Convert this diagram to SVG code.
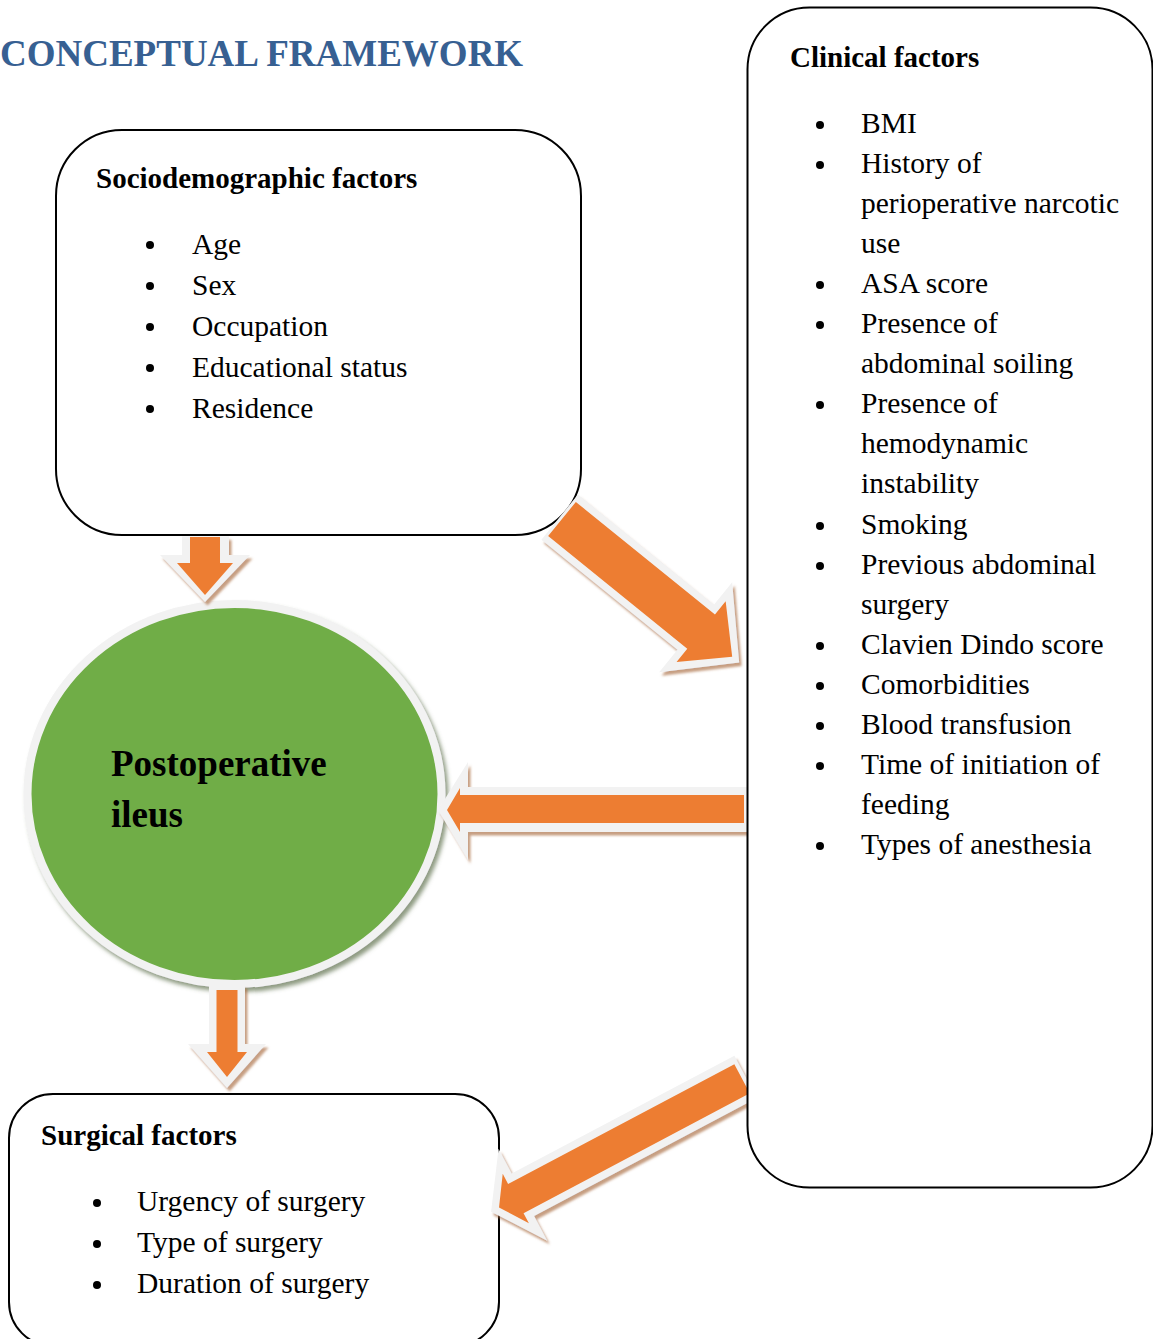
<svg xmlns="http://www.w3.org/2000/svg" width="1153" height="1339" viewBox="0 0 1153 1339">
<defs>
<style>
.box{fill:#fff;stroke:#000;stroke-width:2}
.h{font-family:"Liberation Serif","Times New Roman",serif;font-weight:bold;font-size:29px;fill:#000}
.t{font-family:"Liberation Serif","Times New Roman",serif;font-size:29.5px;fill:#000}
.b{fill:#000}
.aw{fill:#f2f2f2}
.ao{fill:#ed7d31}
</style>
<filter id="ash" x="-20%" y="-20%" width="140%" height="140%">
<feDropShadow dx="2.5" dy="3.5" stdDeviation="1.2" flood-color="#a86a40" flood-opacity="0.65"/>
</filter>
<filter id="csh" x="-10%" y="-10%" width="120%" height="120%">
<feDropShadow dx="3" dy="4" stdDeviation="2" flood-color="#5d704c" flood-opacity="0.7"/>
</filter>
</defs>
<rect width="1153" height="1339" fill="#fff"/>
<text x="0" y="66" font-family="Liberation Serif,Times New Roman,serif" font-weight="bold" font-size="37" fill="#376092">CONCEPTUAL FRAMEWORK</text>

<g id="sociodemographic">
<rect class="box" x="56" y="130" width="525" height="405" rx="66" ry="66"/>
<text class="h" x="96" y="188">Sociodemographic factors</text>
<circle class="b" cx="150" cy="245" r="4"/><text class="t" x="192" y="254">Age</text>
<circle class="b" cx="150" cy="286" r="4"/><text class="t" x="192" y="295">Sex</text>
<circle class="b" cx="150" cy="327" r="4"/><text class="t" x="192" y="336">Occupation</text>
<circle class="b" cx="150" cy="368" r="4"/><text class="t" x="192" y="377">Educational status</text>
<circle class="b" cx="150" cy="409" r="4"/><text class="t" x="192" y="418">Residence</text>
</g>

<g id="surgical">
<rect class="box" x="9" y="1094" width="490" height="252" rx="44" ry="44"/>
<text class="h" x="41" y="1145">Surgical factors</text>
<circle class="b" cx="97" cy="1203" r="4"/><text class="t" x="137" y="1211">Urgency of surgery</text>
<circle class="b" cx="97" cy="1244" r="4"/><text class="t" x="137" y="1252">Type of surgery</text>
<circle class="b" cx="97" cy="1285" r="4"/><text class="t" x="137" y="1293">Duration of surgery</text>
</g>

<g id="postoperative-ileus">
<ellipse cx="234.5" cy="794" rx="207" ry="190" fill="#70ad47" stroke="#f2f2f2" stroke-width="8" filter="url(#csh)"/>
<text x="111" y="776" font-family="Liberation Serif,Times New Roman,serif" font-weight="bold" font-size="37" fill="#000">Postoperative</text>
<text x="111" y="827" font-family="Liberation Serif,Times New Roman,serif" font-weight="bold" font-size="37" fill="#000">ileus</text>
</g>

<g id="connectors">
<g filter="url(#ash)">
<polygon class="aw" points="182,536.5 229,536.5 229,555 250,555 205,602 160,555 182,555"/>
<polygon class="ao" points="190,537 220,537 220,563 233,563 205,595 177,563 190,563"/>
</g>
<g filter="url(#ash)">
<g transform="translate(562,519) rotate(39)">
<polygon class="aw" points="-3,-29 172,-29 172,-58 228,0 172,58 172,29 -3,29"/>
<polygon class="ao" points="0,-22 179,-22 179,-39 219,0 179,39 179,22 0,22"/>
</g>
</g>
<g filter="url(#ash)">
<polygon class="aw" points="750,787 468,787 468,762 438,810 468,860 468,832 750,832"/>
<polygon class="ao" points="744,795 460,795 460,788 447,810 460,832 460,823 744,823"/>
</g>
<g filter="url(#ash)">
<polygon class="aw" points="209,985 245,985 245,1044 266,1044 227,1088 188,1044 209,1044"/>
<polygon class="ao" points="216.5,990 237.5,990 237.5,1052 247,1052 227,1077 207,1052 216.5,1052"/>
</g>
<g filter="url(#ash)">
<g transform="translate(735,1082.5) rotate(152.1)">
<polygon class="aw" points="-12,-24 240,-24 240,-52 276,0 240,52 240,24 -12,24"/>
<polygon class="ao" points="-8,-16.5 248,-16.5 248,-28 267,0 248,28 248,16.5 -8,16.5"/>
</g>
</g>
</g>

<g id="clinical">
<rect class="box" x="747.5" y="7.5" width="405" height="1180" rx="62" ry="62"/>
<text class="h" x="790" y="67">Clinical factors</text>
<circle class="b" cx="820" cy="125" r="4"/><text class="t" x="861" y="133">BMI</text>
<circle class="b" cx="820" cy="165" r="4"/><text class="t" x="861" y="173">History of</text>
<text class="t" x="861" y="213">perioperative narcotic</text>
<text class="t" x="861" y="253">use</text>
<circle class="b" cx="820" cy="285" r="4"/><text class="t" x="861" y="293">ASA score</text>
<circle class="b" cx="820" cy="325" r="4"/><text class="t" x="861" y="333">Presence of</text>
<text class="t" x="861" y="373">abdominal soiling</text>
<circle class="b" cx="820" cy="405" r="4"/><text class="t" x="861" y="413">Presence of</text>
<text class="t" x="861" y="453">hemodynamic</text>
<text class="t" x="861" y="493">instability</text>
<circle class="b" cx="820" cy="526" r="4"/><text class="t" x="861" y="534">Smoking</text>
<circle class="b" cx="820" cy="566" r="4"/><text class="t" x="861" y="574">Previous abdominal</text>
<text class="t" x="861" y="614">surgery</text>
<circle class="b" cx="820" cy="646" r="4"/><text class="t" x="861" y="654">Clavien Dindo score</text>
<circle class="b" cx="820" cy="686" r="4"/><text class="t" x="861" y="694">Comorbidities</text>
<circle class="b" cx="820" cy="726" r="4"/><text class="t" x="861" y="734">Blood transfusion</text>
<circle class="b" cx="820" cy="766" r="4"/><text class="t" x="861" y="774">Time of initiation of</text>
<text class="t" x="861" y="814">feeding</text>
<circle class="b" cx="820" cy="846" r="4"/><text class="t" x="861" y="854">Types of anesthesia</text>
</g>
</svg>
